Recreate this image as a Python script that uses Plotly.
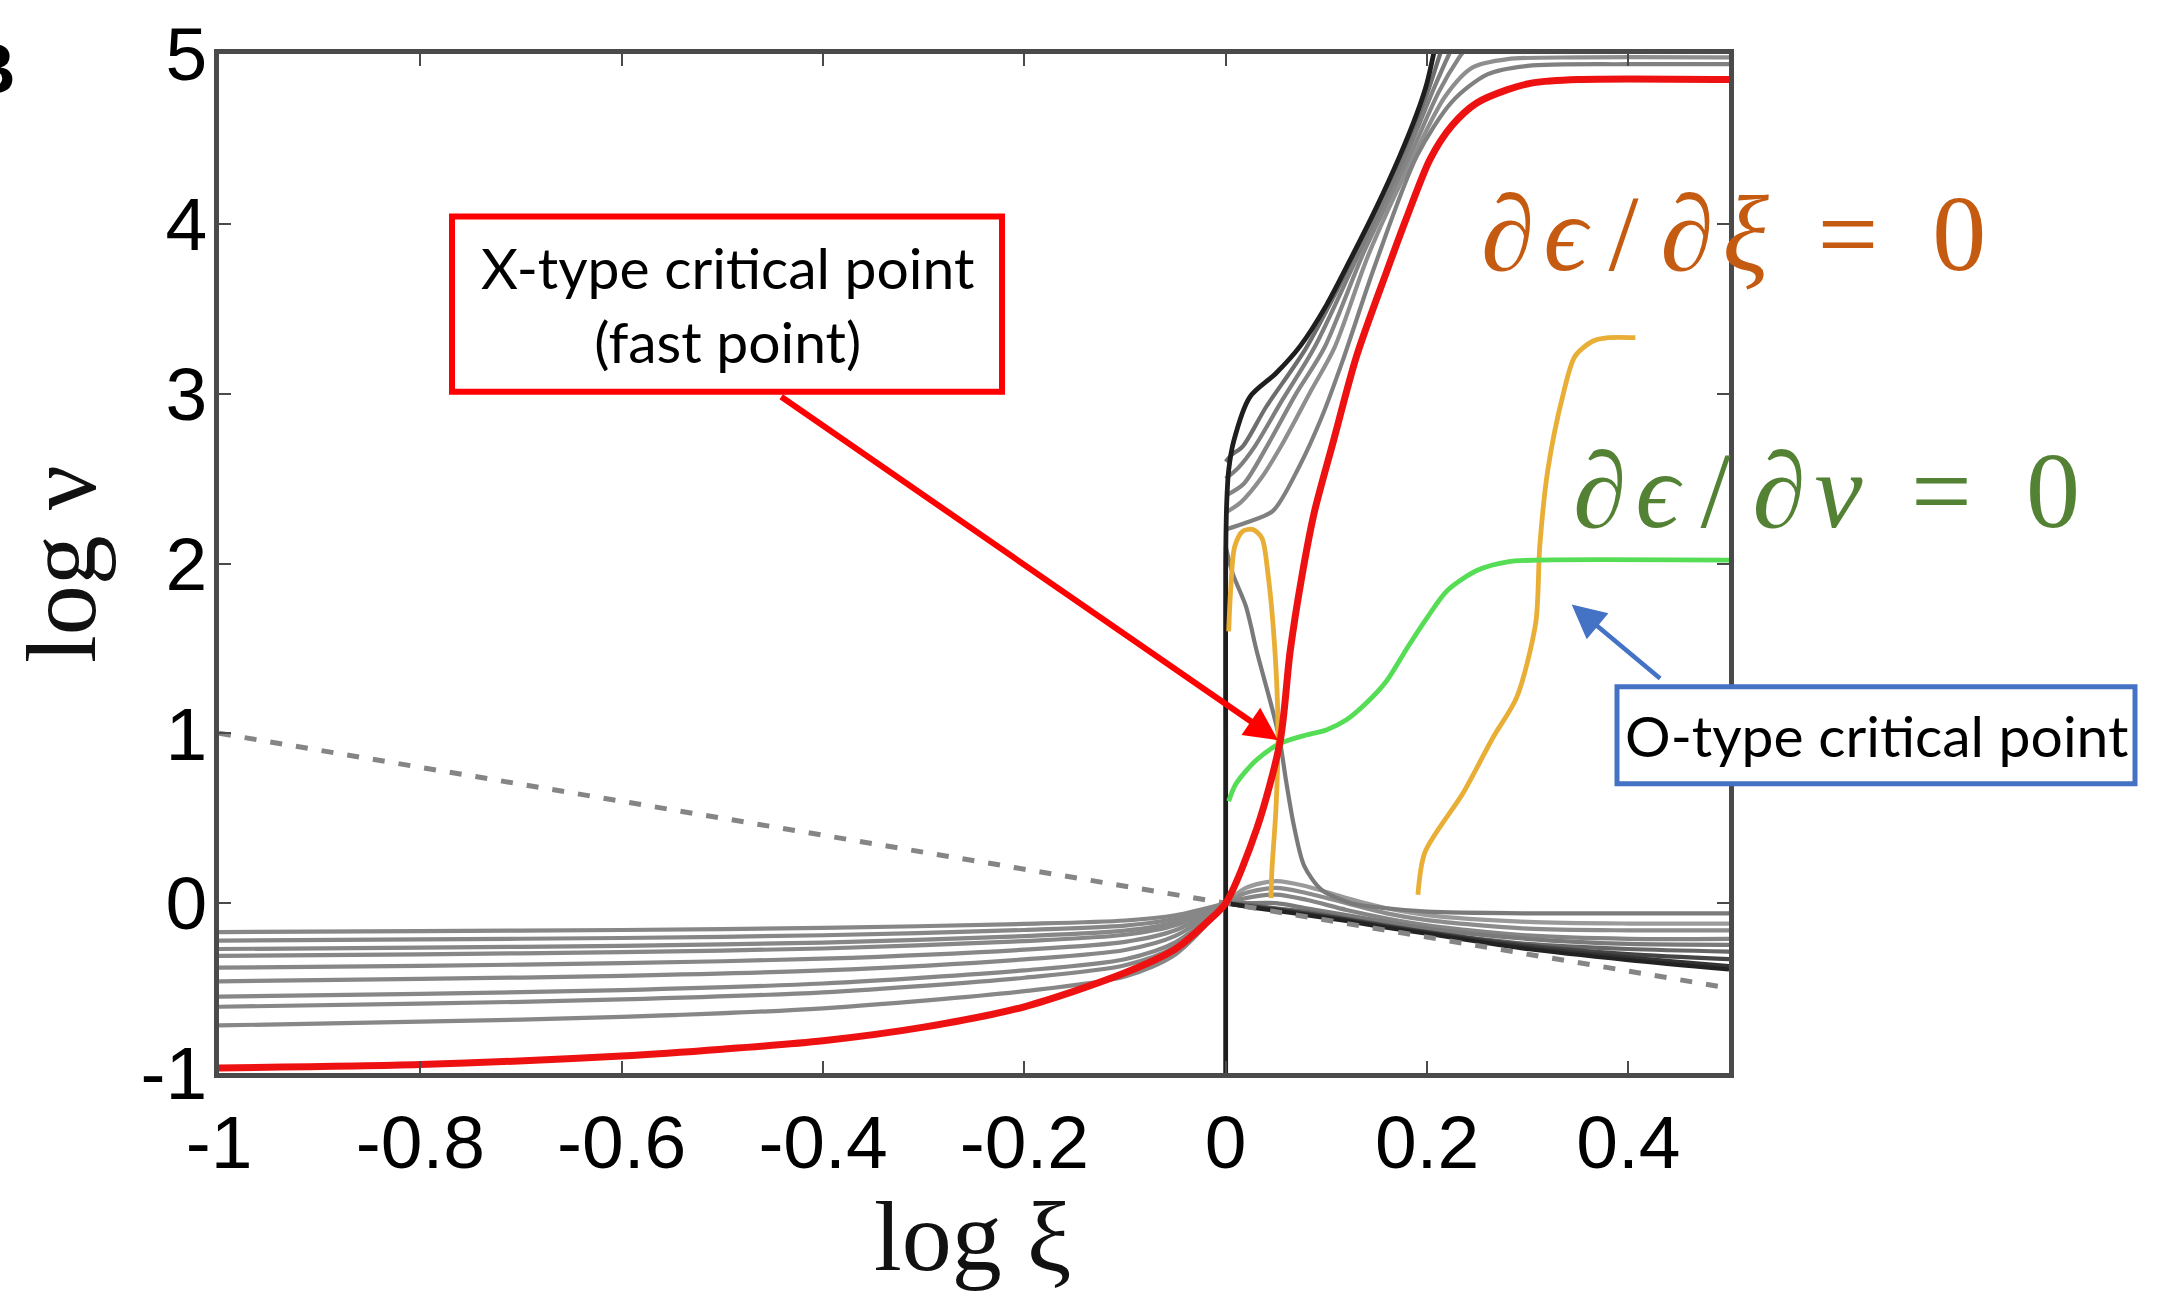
import plotly.graph_objects as go

# ---------------- data ----------------
X_TICKS = [-1, -0.8, -0.6, -0.4, -0.2, 0, 0.2, 0.4]
X_TICK_TEXT = ["-1", "-0.8", "-0.6", "-0.4", "-0.2", "0", "0.2", "0.4"]
Y_TICKS = [-1, 0, 1, 2, 3, 4, 5]
Y_TICK_TEXT = ["-1", "0", "1", "2", "3", "4", "5"]

# left (inner) family of gray solutions, sampled at LEFT_X
LEFT_X = [-1.0, -0.8, -0.6, -0.4, -0.2, -0.1, -0.05, 0.0]
LEFT_1 = [-0.17, -0.165, -0.158, -0.146, -0.122, -0.102, -0.071, 0.0]
LEFT_2 = [-0.22, -0.213, -0.205, -0.189, -0.158, -0.132, -0.092, 0.0]
LEFT_3 = [-0.27, -0.262, -0.251, -0.232, -0.194, -0.162, -0.113, 0.0]
LEFT_4 = [-0.31, -0.301, -0.288, -0.267, -0.223, -0.186, -0.130, 0.0]
LEFT_5 = [-0.38, -0.369, -0.353, -0.327, -0.274, -0.228, -0.160, 0.0]
LEFT_6 = [-0.46, -0.446, -0.428, -0.396, -0.331, -0.276, -0.193, 0.0]
LEFT_7 = [-0.55, -0.534, -0.512, -0.473, -0.396, -0.330, -0.231, 0.0]
LEFT_8 = [-0.61, -0.592, -0.567, -0.525, -0.439, -0.366, -0.256, 0.0]
LEFT_9 = [-0.72, -0.698, -0.670, -0.619, -0.518, -0.432, -0.302, 0.0]

# right-lower family of gray solutions, sampled at RIGHT_X
RIGHT_X = [0.0, 0.02, 0.05, 0.08, 0.12, 0.16, 0.2, 0.3, 0.4, 0.5]
RIGHT_1 = [0.0, 0.09, 0.13, 0.10, 0.03, -0.03, -0.07, -0.11, -0.12, -0.12]
RIGHT_2 = [0.0, 0.06, 0.09, 0.06, 0.0, -0.06, -0.10, -0.15, -0.16, -0.16]
RIGHT_3 = [0.0, 0.03, 0.05, 0.02, -0.04, -0.09, -0.13, -0.19, -0.21, -0.21]
RIGHT_4 = [0.0, 0.0, 0.0, -0.03, -0.07, -0.11, -0.15, -0.21, -0.24, -0.245]
RIGHT_5 = [0.0, -0.01, -0.03, -0.05, -0.09, -0.13, -0.17, -0.24, -0.27, -0.285]
RIGHT_6 = [0.0, -0.015, -0.035, -0.06, -0.095, -0.135, -0.17, -0.25, -0.30, -0.33]
RIGHT_7 = [0.0, -0.018, -0.04, -0.065, -0.10, -0.14, -0.175, -0.26, -0.32, -0.37]
RIGHT_8 = [0.0, -0.02, -0.045, -0.07, -0.105, -0.145, -0.18, -0.27, -0.335, -0.39]

# upper fan of gray solutions
FAN1_X = [0.0, 0.0, 0.0, 0.001, 0.003, 0.008, 0.024, 0.05, 0.074, 0.1, 0.123, 0.15, 0.173, 0.19, 0.2, 0.21]
FAN1_Y = [-1.0, 1.0, 2.0, 2.35, 2.55, 2.72, 2.98, 3.12, 3.28, 3.52, 3.78, 4.1, 4.4, 4.65, 4.83, 5.1]
FAN2_X = [0.0, 0.006, 0.017, 0.04, 0.08, 0.127, 0.176, 0.202, 0.213, 0.222]
FAN2_Y = [2.6, 2.64, 2.69, 2.92, 3.27, 3.8, 4.4, 4.8, 5.0, 5.15]
FAN3_X = [0.0, 0.012, 0.029, 0.055, 0.088, 0.132, 0.179, 0.207, 0.222, 0.232]
FAN3_Y = [2.5, 2.56, 2.69, 2.95, 3.27, 3.82, 4.4, 4.8, 5.0, 5.12]
FAN4_X = [0.0, 0.018, 0.041, 0.07, 0.098, 0.137, 0.183, 0.212, 0.232, 0.245]
FAN4_Y = [2.4, 2.47, 2.69, 3.0, 3.27, 3.83, 4.4, 4.78, 4.98, 5.08]
FAN5_X = [0.0, 0.015, 0.035, 0.055, 0.085, 0.108, 0.142, 0.187, 0.218, 0.245, 0.28, 0.35, 0.5]
FAN5_Y = [2.3, 2.36, 2.5, 2.69, 3.02, 3.27, 3.82, 4.4, 4.75, 4.92, 4.97, 4.98, 4.98]
FAN6_X = [0.0, 0.02, 0.047, 0.073, 0.096, 0.116, 0.148, 0.19, 0.225, 0.26, 0.3, 0.4, 0.5]
FAN6_Y = [2.2, 2.24, 2.31, 2.57, 2.87, 3.19, 3.75, 4.4, 4.72, 4.88, 4.93, 4.94, 4.94]

# decelerating separatrix through the X point
SEP_X = [0.0, 0.007, 0.02, 0.031, 0.046, 0.054, 0.06, 0.068, 0.078, 0.095, 0.125, 0.16, 0.2, 0.3, 0.5]
SEP_Y = [2.1, 1.94, 1.75, 1.48, 1.15, 0.95, 0.72, 0.45, 0.22, 0.08, 0.0, -0.03, -0.05, -0.06, -0.06]

# transonic (critical) solution
RED_X = [-1.0, -0.8, -0.6, -0.5, -0.4, -0.3, -0.2, -0.1, -0.05, -0.02, 0.0, 0.031, 0.054,
         0.064, 0.075, 0.088, 0.107, 0.13, 0.16, 0.18, 0.203, 0.225, 0.249, 0.28, 0.305, 0.35, 0.5]
RED_Y = [-0.97, -0.95, -0.90, -0.86, -0.81, -0.73, -0.61, -0.41, -0.27, -0.12, 0.0, 0.44, 0.95,
         1.48, 1.9, 2.3, 2.72, 3.22, 3.72, 4.04, 4.38, 4.58, 4.71, 4.79, 4.83, 4.85, 4.85]

# dashed reference line
DASH_X = [-1.0, 0.5]
DASH_Y = [1.0, -0.5]

# d(eps)/d(xi) = 0 locus (two branches)
YEL1_X = [0.003, 0.005, 0.009, 0.017, 0.027, 0.036, 0.042, 0.049, 0.052, 0.05, 0.046, 0.045]
YEL1_Y = [1.6, 1.85, 2.1, 2.19, 2.2, 2.15, 1.94, 1.48, 1.02, 0.56, 0.2, 0.03]
YEL2_X = [0.191, 0.198, 0.236, 0.266, 0.289, 0.308, 0.312, 0.32, 0.335, 0.347, 0.365, 0.38, 0.407]
YEL2_Y = [0.05, 0.3, 0.65, 0.98, 1.21, 1.65, 2.1, 2.55, 2.99, 3.22, 3.31, 3.33, 3.33]

# d(eps)/d(v) = 0 locus
GRN_X = [0.003, 0.01, 0.03, 0.054, 0.08, 0.1, 0.12, 0.14, 0.16, 0.18, 0.2, 0.22, 0.25, 0.28, 0.31, 0.5]
GRN_Y = [0.6, 0.7, 0.84, 0.94, 0.99, 1.02, 1.08, 1.18, 1.31, 1.5, 1.68, 1.84, 1.96, 2.01, 2.02, 2.02]

# ---------------- layout geometry ----------------
W, H = 2177, 1302
ML, MR, MT, MB = 219, 448, 44, 229
PW, PH = W - ML - MR, H - MT - MB


def paper(px, py):
    return (px - ML) / PW, (H - MB - py) / PH


fig = go.Figure()


def line(x, y, color, width, dash=None, shape="spline"):
    fig.add_trace(go.Scatter(
        x=x, y=y, mode="lines",
        line=dict(color=color, width=width, shape=shape, smoothing=0.8, dash=dash),
        hoverinfo="skip", showlegend=False))


GRAY = "#878787"
for ys in [LEFT_1, LEFT_2, LEFT_3, LEFT_4, LEFT_5, LEFT_6, LEFT_7, LEFT_8, LEFT_9]:
    line(LEFT_X, ys, GRAY, 4.2)

for ys, col in [(RIGHT_1, "#9a9a9a"), (RIGHT_2, "#8c8c8c"), (RIGHT_3, "#858585"),
                (RIGHT_4, "#7a7a7a"), (RIGHT_5, "#666666"), (RIGHT_6, "#444444"),
                (RIGHT_7, "#333333"), (RIGHT_8, "#222222")]:
    line(RIGHT_X, ys, col, 4.2)

line(DASH_X, DASH_Y, "#858585", 5, dash="12px,14px", shape="linear")

for xs, ys, col in [(FAN2_X, FAN2_Y, "#6e6e6e"), (FAN3_X, FAN3_Y, "#7e7e7e"),
                    (FAN4_X, FAN4_Y, "#858585"), (FAN5_X, FAN5_Y, "#8e8e8e"),
                    (FAN6_X, FAN6_Y, "#808080")]:
    line(xs, ys, col, 4.2)
line(SEP_X, SEP_Y, "#7a7a7a", 4.2)
line(FAN1_X, FAN1_Y, "#1e1e1e", 4.8)

line(YEL1_X, YEL1_Y, "#E9AE35", 4.8)
line(YEL2_X, YEL2_Y, "#E9AE35", 4.8)
line(GRN_X, GRN_Y, "#55DD55", 4.8)
line(RED_X, RED_Y, "#EE1111", 7)

axis_common = dict(
    showgrid=False, zeroline=False, showline=True, mirror="ticks",
    linecolor="#4a4a4a", linewidth=4.5, ticks="inside", ticklen=12,
    tickwidth=2, tickcolor="#4a4a4a",
    tickfont=dict(family="Liberation Sans, Arial, sans-serif", size=75, color="#000000"),
)

fig.update_layout(
    width=W, height=H,
    margin=dict(l=ML, r=MR, t=MT, b=MB, pad=0),
    paper_bgcolor="white", plot_bgcolor="white",
    xaxis=dict(range=[-1, 0.5], tickvals=X_TICKS, ticktext=X_TICK_TEXT,
               ticklabelstandoff=0, **axis_common),
    yaxis=dict(range=[-1, 5], tickvals=Y_TICKS, ticktext=Y_TICK_TEXT,
               ticklabelstandoff=-8, **axis_common),
)

BOX_FONT = dict(family="Lato, 'Open Sans', sans-serif", size=57, color="black")
EQ_FONT = "Liberation Serif, 'DejaVu Serif', serif"
TH = "\u2009"   # thin space
HS = "\u200a"   # hair space
EN = "\u2002"   # en space

# X-type critical point box
fig.add_shape(type="rect", xref="paper", yref="paper",
              x0=paper(452, 0)[0], x1=paper(1002, 0)[0],
              y0=paper(0, 385)[1], y1=paper(0, 208)[1],
              line=dict(color="#FF0000", width=6), fillcolor="white", layer="above")
fig.add_annotation(xref="paper", yref="paper", x=paper(727, 0)[0], y=paper(0, 296)[1],
                   text="X-type critical point<br>(fast point)", showarrow=False,
                   font=BOX_FONT, xanchor="center", yanchor="middle")
# red arrow to the X point
fig.add_annotation(x=0.052, y=0.96, ax=-0.443, ay=2.988, xref="x", yref="y",
                   axref="x", ayref="y", text="", showarrow=True,
                   arrowhead=2, arrowsize=1.1, arrowwidth=6, arrowcolor="#FF0000")

# O-type critical point box
fig.add_shape(type="rect", xref="paper", yref="paper",
              x0=paper(1617, 0)[0], x1=paper(2135, 0)[0],
              y0=paper(0, 781)[1], y1=paper(0, 683)[1],
              line=dict(color="#4472C4", width=5), fillcolor="white", layer="above")
fig.add_annotation(xref="paper", yref="paper", x=paper(1876, 0)[0], y=paper(0, 732)[1],
                   text="O-type critical point", showarrow=False,
                   font=BOX_FONT, xanchor="center", yanchor="middle")
fig.add_annotation(x=0.3437, y=1.758, ax=0.4331, ay=1.315, xref="x", yref="y",
                   axref="x", ayref="y", text="", showarrow=True,
                   arrowhead=2, arrowsize=1.5, arrowwidth=4.5, arrowcolor="#4472C4")

# equation labels
fig.add_annotation(xref="paper", yref="paper", x=paper(1733, 0)[0], y=paper(0, 225)[1],
                   text=f"<i>∂{HS}ϵ</i>{TH}/{TH}<i>∂{HS}ξ</i>{TH} ={EN}0", showarrow=False,
                   font=dict(family=EQ_FONT, size=108, color="#C55A11"),
                   xanchor="center", yanchor="middle")
fig.add_annotation(xref="paper", yref="paper", x=paper(1826, 0)[0], y=paper(0, 485)[1],
                   text=f"<i>∂{HS}ϵ</i>{TH}/{TH}<i>∂{HS}ν</i>{TH} ={EN}0", showarrow=False,
                   font=dict(family=EQ_FONT, size=108, color="#548235"),
                   xanchor="center", yanchor="middle")

# axis titles
fig.add_annotation(xref="paper", yref="paper", x=paper(972, 0)[0], y=paper(0, 1238)[1],
                   text="log ξ", showarrow=False,
                   font=dict(family="Liberation Serif, serif", size=100, color="#111111"),
                   xanchor="center", yanchor="middle")
fig.add_annotation(xref="paper", yref="paper", x=paper(62, 0)[0], y=paper(0, 559)[1],
                   text="log ν", showarrow=False, textangle=-90,
                   font=dict(family="Liberation Serif, serif", size=100, color="#111111"),
                   xanchor="center", yanchor="middle")

# panel label, partially cut at the left edge as in the source figure
fig.add_annotation(xref="paper", yref="paper", x=paper(18, 0)[0], y=paper(0, 59)[1],
                   text="<b>B</b>", showarrow=False,
                   font=dict(family="Liberation Sans, Arial, sans-serif", size=70, color="black"),
                   xanchor="right", yanchor="middle")

fig.write_html("out.html", config={"displayModeBar": False})
